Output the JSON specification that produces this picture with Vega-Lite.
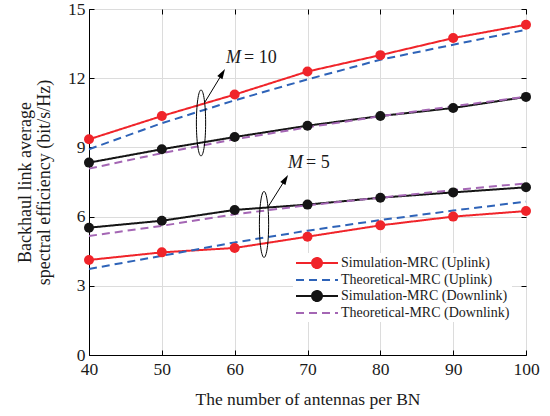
{
  "$schema": "https://vega.github.io/schema/vega-lite/v6.json",
  "width": 437,
  "height": 346,
  "autosize": "none",
  "padding": {"left": 89, "top": 9, "right": 24, "bottom": 61},
  "background": "white",
  "config": {
    "font": "Liberation Serif",
    "view": {"stroke": "black", "strokeWidth": 1},
    "axis": {
      "gridColor": "#dcdcdc", "gridWidth": 1, "domainColor": "black", "tickColor": "black",
      "labelColor": "#1a1a1a", "titleColor": "#1a1a1a", "labelFont": "Liberation Serif", "titleFont": "Liberation Serif",
      "labelFontSize": 17.5, "titleFontSize": 18, "titleFontWeight": "normal", "tickSize": -5, "labelFlush": false
    }
  },
  "resolve": {"axis": {"x": "independent", "y": "independent"}},
  "datasets": {
    "curves": [
      {"series": "Simulation-MRC (Uplink)", "M": 10, "N": 40, "se": 9.35},
      {"series": "Simulation-MRC (Uplink)", "M": 10, "N": 50, "se": 10.36},
      {"series": "Simulation-MRC (Uplink)", "M": 10, "N": 60, "se": 11.29},
      {"series": "Simulation-MRC (Uplink)", "M": 10, "N": 70, "se": 12.29},
      {"series": "Simulation-MRC (Uplink)", "M": 10, "N": 80, "se": 13.0},
      {"series": "Simulation-MRC (Uplink)", "M": 10, "N": 90, "se": 13.74},
      {"series": "Simulation-MRC (Uplink)", "M": 10, "N": 100, "se": 14.32},
      {"series": "Theoretical-MRC (Uplink)", "M": 10, "N": 40, "se": 8.92},
      {"series": "Theoretical-MRC (Uplink)", "M": 10, "N": 50, "se": 10.05},
      {"series": "Theoretical-MRC (Uplink)", "M": 10, "N": 60, "se": 11.04},
      {"series": "Theoretical-MRC (Uplink)", "M": 10, "N": 70, "se": 11.95},
      {"series": "Theoretical-MRC (Uplink)", "M": 10, "N": 80, "se": 12.8},
      {"series": "Theoretical-MRC (Uplink)", "M": 10, "N": 90, "se": 13.45},
      {"series": "Theoretical-MRC (Uplink)", "M": 10, "N": 100, "se": 14.1},
      {"series": "Simulation-MRC (Downlink)", "M": 10, "N": 40, "se": 8.34},
      {"series": "Simulation-MRC (Downlink)", "M": 10, "N": 50, "se": 8.92},
      {"series": "Simulation-MRC (Downlink)", "M": 10, "N": 60, "se": 9.45},
      {"series": "Simulation-MRC (Downlink)", "M": 10, "N": 70, "se": 9.94},
      {"series": "Simulation-MRC (Downlink)", "M": 10, "N": 80, "se": 10.36},
      {"series": "Simulation-MRC (Downlink)", "M": 10, "N": 90, "se": 10.71},
      {"series": "Simulation-MRC (Downlink)", "M": 10, "N": 100, "se": 11.19},
      {"series": "Theoretical-MRC (Downlink)", "M": 10, "N": 40, "se": 8.08},
      {"series": "Theoretical-MRC (Downlink)", "M": 10, "N": 50, "se": 8.75},
      {"series": "Theoretical-MRC (Downlink)", "M": 10, "N": 60, "se": 9.35},
      {"series": "Theoretical-MRC (Downlink)", "M": 10, "N": 70, "se": 9.87},
      {"series": "Theoretical-MRC (Downlink)", "M": 10, "N": 80, "se": 10.35},
      {"series": "Theoretical-MRC (Downlink)", "M": 10, "N": 90, "se": 10.78},
      {"series": "Theoretical-MRC (Downlink)", "M": 10, "N": 100, "se": 11.2},
      {"series": "Simulation-MRC (Uplink)", "M": 5, "N": 40, "se": 4.12},
      {"series": "Simulation-MRC (Uplink)", "M": 5, "N": 50, "se": 4.45},
      {"series": "Simulation-MRC (Uplink)", "M": 5, "N": 60, "se": 4.64},
      {"series": "Simulation-MRC (Uplink)", "M": 5, "N": 70, "se": 5.13},
      {"series": "Simulation-MRC (Uplink)", "M": 5, "N": 80, "se": 5.62},
      {"series": "Simulation-MRC (Uplink)", "M": 5, "N": 90, "se": 6.0},
      {"series": "Simulation-MRC (Uplink)", "M": 5, "N": 100, "se": 6.24},
      {"series": "Theoretical-MRC (Uplink)", "M": 5, "N": 40, "se": 3.73},
      {"series": "Theoretical-MRC (Uplink)", "M": 5, "N": 50, "se": 4.3},
      {"series": "Theoretical-MRC (Uplink)", "M": 5, "N": 60, "se": 4.88},
      {"series": "Theoretical-MRC (Uplink)", "M": 5, "N": 70, "se": 5.39},
      {"series": "Theoretical-MRC (Uplink)", "M": 5, "N": 80, "se": 5.85},
      {"series": "Theoretical-MRC (Uplink)", "M": 5, "N": 90, "se": 6.26},
      {"series": "Theoretical-MRC (Uplink)", "M": 5, "N": 100, "se": 6.65},
      {"series": "Simulation-MRC (Downlink)", "M": 5, "N": 40, "se": 5.52},
      {"series": "Simulation-MRC (Downlink)", "M": 5, "N": 50, "se": 5.82},
      {"series": "Simulation-MRC (Downlink)", "M": 5, "N": 60, "se": 6.29},
      {"series": "Simulation-MRC (Downlink)", "M": 5, "N": 70, "se": 6.52},
      {"series": "Simulation-MRC (Downlink)", "M": 5, "N": 80, "se": 6.82},
      {"series": "Simulation-MRC (Downlink)", "M": 5, "N": 90, "se": 7.05},
      {"series": "Simulation-MRC (Downlink)", "M": 5, "N": 100, "se": 7.27},
      {"series": "Theoretical-MRC (Downlink)", "M": 5, "N": 40, "se": 5.16},
      {"series": "Theoretical-MRC (Downlink)", "M": 5, "N": 50, "se": 5.6},
      {"series": "Theoretical-MRC (Downlink)", "M": 5, "N": 60, "se": 6.1},
      {"series": "Theoretical-MRC (Downlink)", "M": 5, "N": 70, "se": 6.49},
      {"series": "Theoretical-MRC (Downlink)", "M": 5, "N": 80, "se": 6.82},
      {"series": "Theoretical-MRC (Downlink)", "M": 5, "N": 90, "se": 7.15},
      {"series": "Theoretical-MRC (Downlink)", "M": 5, "N": 100, "se": 7.44}
    ],
    "ellipses": [{"N": 55.38, "se": 10.06}, {"N": 64.03, "se": 5.66}],
    "arrows": [{"N": 55.93, "se": 10.97, "N2": 58.32, "se2": 12.21}, {"N": 64.58, "se": 6.42, "N2": 66.97, "se2": 7.62}],
    "labels": [{"N": 58.81, "se": 12.66, "rest": "= 10"}, {"N": 67.32, "se": 8.1, "rest": "= 5"}]
  },
  "layer": [
    {
      "data": {"name": "curves"},
      "mark": {"type": "line", "strokeWidth": 2},
      "encoding": {
        "x": {"field": "N", "type": "quantitative", "scale": {"domain": [40, 100], "nice": false},
          "axis": {"values": [40, 50, 60, 70, 80, 90, 100], "title": "The number of antennas per BN", "titleFontSize": 17.5, "labelPadding": 10, "titlePadding": 13}},
        "y": {"field": "se", "type": "quantitative", "scale": {"domain": [0, 15], "nice": false},
          "axis": {"values": [0, 3, 6, 9, 12, 15], "title": ["Backhaul link average", "spectral efficiency (bit/s/Hz)"], "titleFontSize": 18, "titleLineHeight": 19, "labelPadding": 9, "titlePadding": 14}},
        "color": {"field": "series", "type": "nominal",
          "scale": {"domain": ["Simulation-MRC (Uplink)", "Theoretical-MRC (Uplink)", "Simulation-MRC (Downlink)", "Theoretical-MRC (Downlink)"],
            "range": ["#f0242a", "#2e63b8", "#151515", "#a466b4"]},
          "legend": {
            "orient": "none", "legendX": 204, "legendY": 244, "title": null,
            "labelFont": "Liberation Serif", "labelFontSize": 14, "labelColor": "#1a1a1a", "labelLimit": 400,
            "fillColor": "white", "padding": 2, "rowPadding": 0, "labelOffset": 30,
            "symbolSize": 196, "symbolStrokeWidth": 2, "symbolOffset": 0,
            "encode": {"symbols": {"update": {
              "shape": {"signal": "indexof(datum.value, 'Simulation') == 0 ? 'M-1,0L5,0M1.29,0A0.71,0.71 0 1,0 2.71,0A0.71,0.71 0 1,0 1.29,0Z' : 'M-1,0L5,0'"},
              "fill": {"scale": "color", "field": "value"},
              "strokeDash": {"signal": "indexof(datum.value, 'Simulation') == 0 ? [1, 0] : [8, 5]"}
            }}}
          }},
        "strokeDash": {"field": "series", "type": "nominal",
          "scale": {"domain": ["Simulation-MRC (Uplink)", "Theoretical-MRC (Uplink)", "Simulation-MRC (Downlink)", "Theoretical-MRC (Downlink)"],
            "range": [[1, 0], [8, 5], [1, 0], [8, 5]]}, "legend": null},
        "detail": {"field": "M", "type": "nominal"}
      }
    },
    {
      "data": {"name": "curves"},
      "transform": [{"filter": "indexof(datum.series, 'Simulation') == 0"}],
      "mark": {"type": "point", "filled": true, "size": 100, "opacity": 1, "stroke": null},
      "encoding": {
        "x": {"field": "N", "type": "quantitative", "axis": null},
        "y": {"field": "se", "type": "quantitative", "axis": null},
        "fill": {"field": "series", "type": "nominal",
          "scale": {"domain": ["Simulation-MRC (Uplink)", "Simulation-MRC (Downlink)"], "range": ["#f0242a", "#151515"]},
          "legend": null}
      }
    },
    {
      "data": {"name": "ellipses"},
      "mark": {"type": "point", "shape": "M0,-1A0.14,1 0 1,1 0,1A0.14,1 0 1,1 0,-1Z", "size": 4356, "filled": false, "stroke": "black", "strokeWidth": 1, "opacity": 1},
      "encoding": {
        "x": {"field": "N", "type": "quantitative", "axis": {"orient": "top", "values": [40, 50, 60, 70, 80, 90, 100], "labels": false, "grid": false, "domain": false, "title": null}},
        "y": {"field": "se", "type": "quantitative", "axis": {"orient": "right", "values": [0, 3, 6, 9, 12, 15], "labels": false, "grid": false, "domain": false, "title": null}}
      }
    },
    {
      "data": {"name": "arrows"},
      "mark": {"type": "rule", "stroke": "black", "strokeWidth": 1},
      "encoding": {"x": {"field": "N", "type": "quantitative", "axis": null}, "y": {"field": "se", "type": "quantitative", "axis": null},
        "x2": {"field": "N2"}, "y2": {"field": "se2"}}
    },
    {
      "data": {"name": "arrows"},
      "mark": {"type": "point", "shape": "M0,-1L0.6,1L-0.6,1Z", "size": 100, "filled": true, "fill": "black", "angle": 31, "opacity": 1},
      "encoding": {"x": {"field": "N2", "type": "quantitative", "axis": null}, "y": {"field": "se2", "type": "quantitative", "axis": null}}
    },
    {
      "data": {"name": "labels"},
      "mark": {"type": "text", "text": "M", "fontStyle": "italic", "font": "Liberation Serif", "fontSize": 18, "align": "left", "baseline": "alphabetic", "color": "#1a1a1a"},
      "encoding": {"x": {"field": "N", "type": "quantitative", "axis": null}, "y": {"field": "se", "type": "quantitative", "axis": null}}
    },
    {
      "data": {"name": "labels"},
      "mark": {"type": "text", "font": "Liberation Serif", "fontSize": 18, "align": "left", "baseline": "alphabetic", "dx": 18, "color": "#1a1a1a"},
      "encoding": {"x": {"field": "N", "type": "quantitative", "axis": null}, "y": {"field": "se", "type": "quantitative", "axis": null}, "text": {"field": "rest"}}
    }
  ]
}
